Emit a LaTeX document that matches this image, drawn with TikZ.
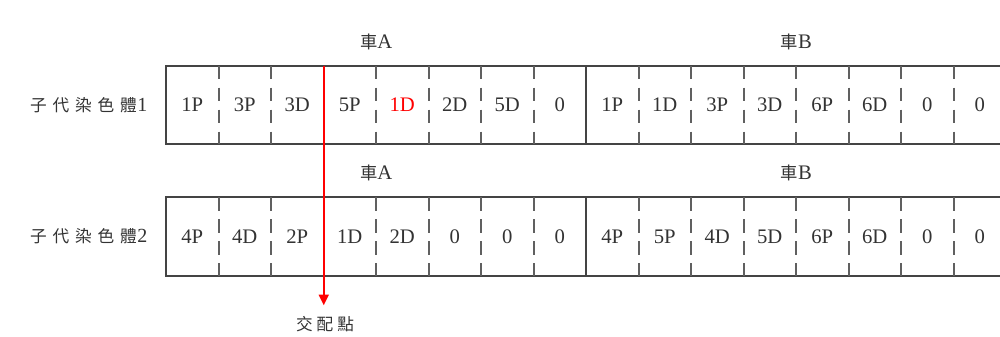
\documentclass[tikz,border=0pt]{standalone}
\usepackage{fontspec}
\setmainfont{Liberation Serif}
\newfontfamily\cjk{Noto Sans CJK TC}
\newfontfamily\cjkrow[LetterSpace=35]{Noto Sans CJK TC}
\newfontfamily\cjkwide[LetterSpace=24]{Noto Sans CJK TC}
\usetikzlibrary{arrows.meta,positioning}

\definecolor{ink}{HTML}{333333}
\definecolor{rule}{HTML}{444444}
\definecolor{xred}{HTML}{FF0000}

\tikzset{
  gene/.style={minimum width=39.375pt,minimum height=58.5pt,inner sep=0pt,
    text=ink,font=\fontsize{15.5}{17}\selectfont},
  chrom/.style={draw=rule,line width=1.4pt},
  cut/.style={draw=rule!85!white,line width=1.3pt,dash pattern=on 10pt off 6.5pt},
  car/.style={inner sep=0pt,text=ink,font=\fontsize{15.5}{17}\selectfont},
  rowlbl/.style={inner sep=0pt,text=ink,font=\fontsize{15}{17}\selectfont},
  cross/.style={draw=xred,line width=1.3pt,-{Triangle[length=8pt,width=7.5pt]}}
}
\newcommand\rowname[1]{{\fontsize{12.5}{14}\selectfont\cjkrow 子代染色體}\kern0.5pt#1}

\begin{document}
\begin{tikzpicture}[x=0.75pt,y=0.75pt]
\useasboundingbox (0,0) rectangle (1000,336);

% offspring chromosome 1
\foreach \g [count=\i] in {1P,3P,3D,5P,{\color{xred}1D},2D,5D,0,1P,1D,3P,3D,6P,6D,0,0}
  \node[gene] (a\i) at ({166+52.5*(\i-0.5)},231) {\g};
% offspring chromosome 2
\foreach \g [count=\i] in {4P,4D,2P,1D,2D,0,0,0,4P,5P,4D,5D,6P,6D,0,0}
  \node[gene] (b\i) at ({166+52.5*(\i-0.5)},99.5) {\g};

% outlines, car boundary and gene boundaries (cell 3 is where the cut runs)
\foreach \r in {a,b}{
  \draw[chrom] (\r1.north west) rectangle (\r16.south east);
  \draw[chrom] (\r8.north east) -- (\r8.south east);
  \foreach \i in {1,2,4,5,6,7,9,10,11,12,13,14,15}
    \draw[cut] (\r\i.north east) -- (\r\i.south east);
}

\node[rowlbl,left=13.5pt of a1] (lbl1) {\rowname{1}};
\node[rowlbl,left=13.5pt of b1] (lbl2) {\rowname{2}};

\node[car] (carA1) at ([yshift=18pt]a4.north east) {{\cjk\fontsize{13}{15}\selectfont 車}A};
\node[car] (carB1) at ([yshift=18pt]a12.north east) {{\cjk\fontsize{13}{15}\selectfont 車}B};
\node[car] (carA2) at ([yshift=18.5pt]b4.north east) {{\cjk\fontsize{13}{15}\selectfont 車}A};
\node[car] (carB2) at ([yshift=18.5pt]b12.north east) {{\cjk\fontsize{13}{15}\selectfont 車}B};

% crossover point
\node[car] (xover) at (325,12) {\cjkwide\fontsize{12.5}{15}\selectfont 交配點};
\draw[cross,shorten >=8pt] (a3.north east) -- (a3.north east |- xover.north);
\end{tikzpicture}
\end{document}
